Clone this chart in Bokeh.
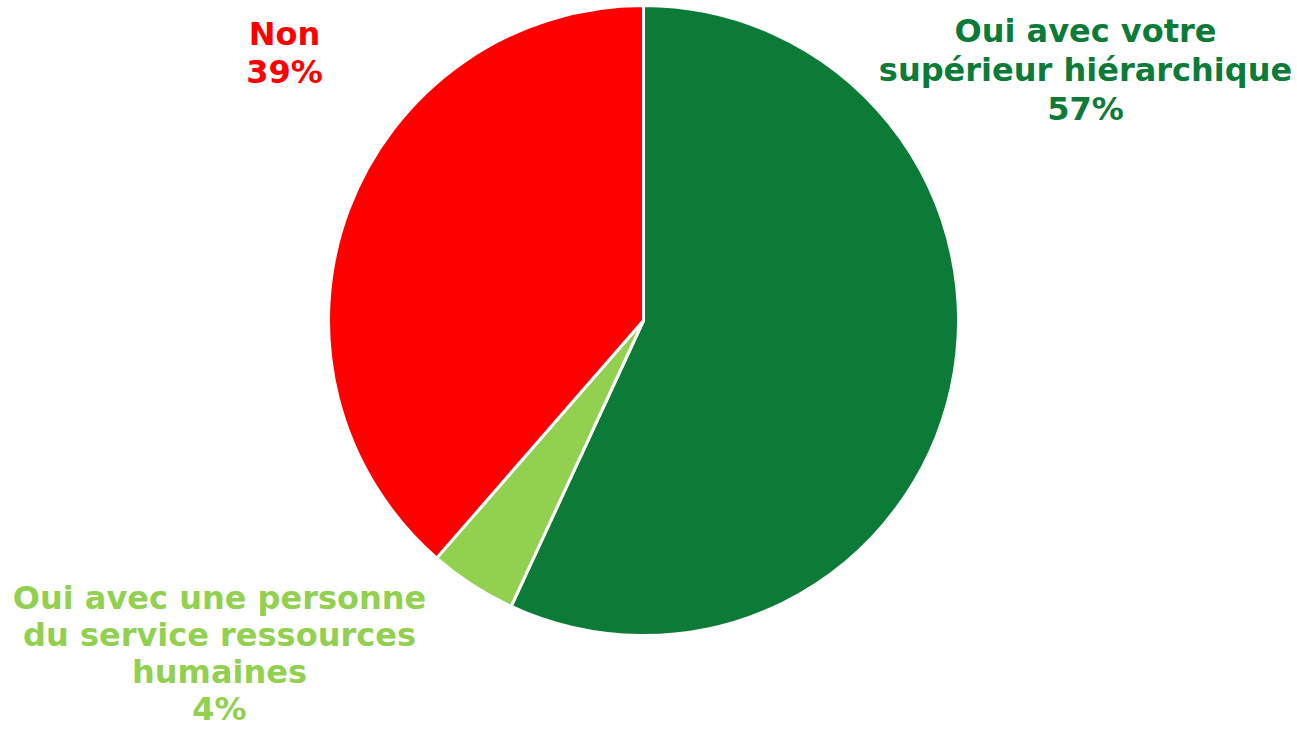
import math
from bokeh.plotting import figure
from bokeh.models import Range1d, ColumnDataSource
from bokeh.core.properties import value
from bokeh.embed import file_html
from bokeh.resources import INLINE

# Data
categories = ["Oui avec votre supérieur hiérarchique",
              "Oui avec une personne du service ressources humaines",
              "Non"]
shares = [56.9, 4.5, 38.6]
label_lines = [["Oui avec votre", "supérieur hiérarchique", "57%"],
               ["Oui avec une personne", "du service ressources", "humaines", "4%"],
               ["Non", "39%"]]
colors = ["#0C7B38", "#92D050", "#FF0000"]

W, H = 1297, 731
p = figure(width=W, height=H, x_range=Range1d(0, W), y_range=Range1d(0, H),
           output_backend="svg", toolbar_location=None, min_border=0,
           outline_line_color=None)
p.axis.visible = False
p.grid.visible = False

cx, cy, r = 643, H - 320, 315
total = sum(shares)
starts, ends = [], []
a = math.pi / 2
for s in shares:
    starts.append(a)
    a -= s / total * 2 * math.pi
    ends.append(a)

src = ColumnDataSource(dict(start=starts, end=ends, color=colors, cat=categories))
p.wedge(x=cx, y=cy, radius=r, start_angle="start", end_angle="end",
        direction="clock", fill_color="color", line_color="white",
        line_width=3, source=src)

# label block positions (x centre, y of first line middle, line step), page pixels
lab_x = [1085, 219, 284]
lab_y0 = [30.5, 597, 33]
lab_step = [38.8, 37.3, 38.8]
for lines, x, y0, st, c in zip(label_lines, lab_x, lab_y0, lab_step, colors):
    ys = [H - (y0 + i * st) for i in range(len(lines))]
    p.text(x=[x] * len(lines), y=ys, text=lines, text_color=c,
           text_align="center", text_baseline="middle",
           text_font=value("DejaVu Sans"), text_font_style="bold",
           text_font_size="32px")

open("out.html", "w").write(file_html(p, INLINE))
